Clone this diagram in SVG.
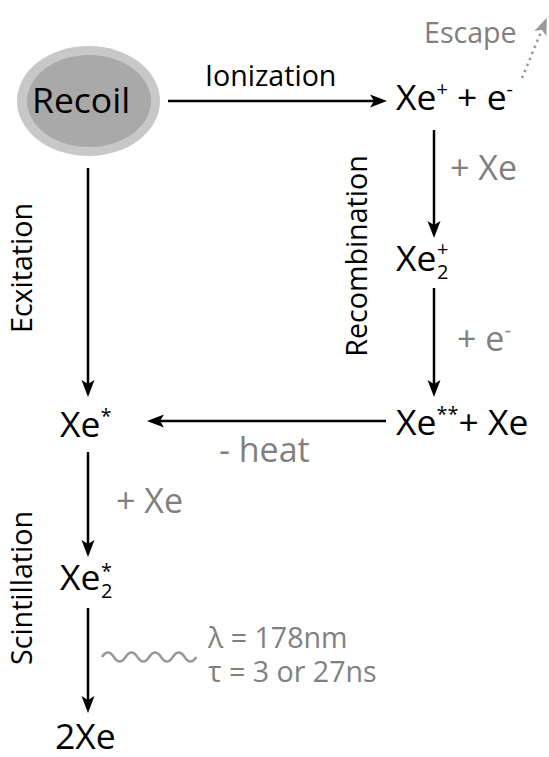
<svg xmlns="http://www.w3.org/2000/svg" width="549" height="757" viewBox="0 0 549 757">
<style>
text { font-family: "Open Sans", "Noto Sans", "DejaVu Sans", sans-serif; }
.main { font-size: 35.5px; fill: #000; }
.gray { font-size: 34px; fill: #808080; }
.lbl { font-size: 28.6px; fill: #000; }
.glbl { font-size: 28.6px; fill: #808080; }
.sup { font-size: 20px; }
.arrow { stroke: #000; stroke-width: 2.5; fill: none; marker-end: url(#ah); }
</style>
<defs>
<marker id="ah" markerUnits="userSpaceOnUse" markerWidth="30" markerHeight="20" viewBox="-10 -10 30 20" refX="0" refY="0" orient="auto" overflow="visible">
<path d="M10,0 L-7,-6.5 L-3,0 L-7,6.5 Z" fill="#000"/>
</marker>
<marker id="ahg" markerUnits="userSpaceOnUse" markerWidth="30" markerHeight="20" viewBox="-10 -10 30 20" refX="0" refY="0" orient="auto" overflow="visible">
<path d="M10,0 L-7,-6.5 L-3,0 L-7,6.5 Z" fill="#999"/>
</marker>
</defs>
<rect width="549" height="757" fill="#fff"/>

<g id="connectors">
<line class="arrow" x1="168" y1="101" x2="377" y2="101"/>
<line x1="522" y1="78" x2="543" y2="27" stroke="#999" stroke-width="2.5" stroke-dasharray="2.5,4" marker-end="url(#ahg)"/>
<line class="arrow" x1="434" y1="130" x2="434" y2="228"/>
<line class="arrow" x1="434" y1="288" x2="434" y2="387"/>
<line class="arrow" x1="386" y1="421" x2="157" y2="421"/>
<line class="arrow" x1="88" y1="168" x2="88" y2="387"/>
<line class="arrow" x1="88" y1="452" x2="88" y2="547"/>
<line class="arrow" x1="88" y1="608" x2="88" y2="703"/>
<path d="M102,657 q5.9,-9 11.8,0 t11.8,0 t11.8,0 t11.8,0 t11.8,0 t11.8,0 t11.8,0 t11.8,0" fill="none" stroke="#999" stroke-width="2.5"/>
</g>

<g id="recoil">
<ellipse cx="88.5" cy="101" rx="71.5" ry="55" fill="#c8c8c8"/>
<ellipse cx="89" cy="101" rx="62" ry="46" fill="#a9a9a9"/>
<text class="main" x="32" y="113">Recoil</text>
</g>

<g id="label-ionization"><text class="lbl" x="205" y="86">Ionization</text></g>

<g id="xe-ion">
<text class="main" x="396" y="110">Xe<tspan class="sup" dy="-14">+</tspan><tspan dy="14"> + e</tspan><tspan class="sup" dy="-14">-</tspan></text>
</g>

<g id="escape"><text class="glbl" x="424" y="43">Escape</text></g>

<g id="label-plus-xe-1"><text class="gray" x="450" y="180">+ Xe</text></g>

<g id="label-recombination"><text class="lbl" text-anchor="middle" transform="translate(367,256) rotate(-90)">Recombination</text></g>

<g id="xe2-ion">
<text class="main" x="396" y="271">Xe</text>
<text class="main sup" x="437" y="279">2</text>
<text class="main sup" x="437" y="256">+</text>
</g>

<g id="label-plus-e"><text class="gray" x="457" y="351">+ e<tspan class="sup" dy="-14">-</tspan></text></g>

<g id="xe-2star">
<text class="main" x="396" y="435">Xe<tspan class="sup" dy="-14">**</tspan><tspan dy="14">+ Xe</tspan></text>
</g>

<g id="label-heat"><text class="gray" x="219" y="462">- heat</text></g>

<g id="xe-star">
<text class="main" x="60" y="437">Xe<tspan class="sup" dy="-14">*</tspan></text>
</g>

<g id="label-excitation"><text class="lbl" text-anchor="middle" transform="translate(32,268) rotate(-90)">Ecxitation</text></g>

<g id="label-plus-xe-2"><text class="gray" x="116" y="513">+ Xe</text></g>

<g id="xe2-star">
<text class="main" x="60" y="590">Xe</text>
<text class="main sup" x="101" y="598">2</text>
<text class="main sup" x="101" y="578">*</text>
</g>

<g id="label-scintillation"><text class="lbl" text-anchor="middle" transform="translate(32,588) rotate(-90)">Scintillation</text></g>

<g id="photon-label">
<text class="glbl" x="208" y="648">λ = 178nm</text>
<text class="glbl" x="208" y="682">τ = 3 or 27ns</text>
</g>

<g id="two-xe"><text class="main" x="55" y="749">2Xe</text></g>
</svg>
